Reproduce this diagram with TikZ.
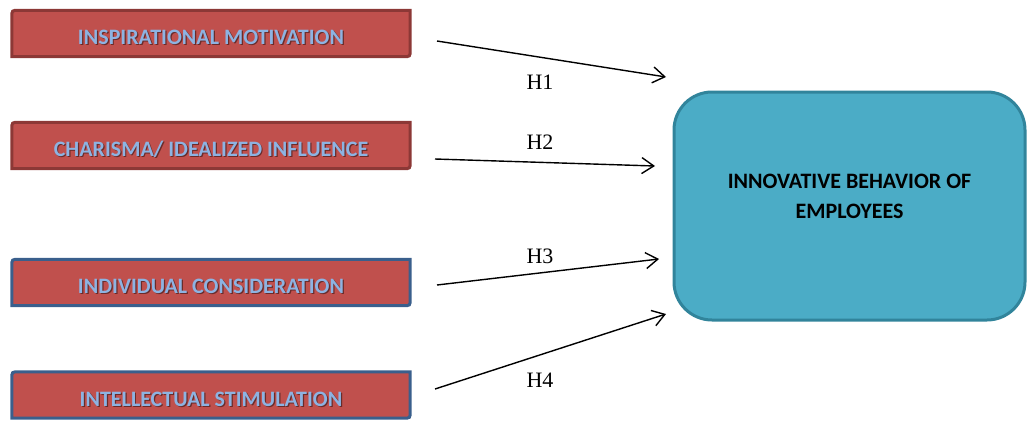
\documentclass[tikz,border=0pt]{standalone}
\usepackage{fontspec}
\setmainfont{Liberation Serif}
\newfontfamily\boxfont{Carlito}
\usetikzlibrary{arrows.meta,calc,backgrounds}

\definecolor{factorfill}{HTML}{C0504D}
\definecolor{redline}{HTML}{8C3836}
\definecolor{blueline}{HTML}{3A5F8C}
\definecolor{factortext}{HTML}{8DB3E2}
\definecolor{outcomefill}{HTML}{4BACC6}
\definecolor{outcomeline}{HTML}{31849B}

\tikzset{
  factor/.style={minimum width=398pt, minimum height=46pt, inner sep=0pt,
    text height=22pt, text depth=0pt, text=factortext,
    font=\boxfont\bfseries\fontsize{22}{24}\selectfont},
  factorshade/.style={factor, text=black, opacity=0.45},
  outcome/.style={draw=outcomeline, fill=outcomefill, line width=3pt,
    rounded corners=38pt, minimum width=351pt, minimum height=228pt,
    inner sep=0pt, font=\boxfont\bfseries\fontsize{22}{30}\selectfont},
  arr/.style={-{Straight Barb[length=12pt,width=16pt]}, line width=1.4pt},
  hyp/.style={font=\fontsize{22}{24}\selectfont, inner sep=0pt}
}

% frame of a factor box: rounded top-left and bottom-right corners
\newcommand\factorframe[2]{%
  \draw[#2, line width=3pt, fill=factorfill]
    (#1.south west) -- ($(#1.north west)+(0,7)$)
    .. controls (#1.north west) .. ($(#1.north west)+(7,0)$)
    -- (#1.north east) -- ($(#1.south east)+(0,-7)$)
    .. controls (#1.south east) .. ($(#1.south east)+(-7,0)$) -- cycle;}

\begin{document}
\begin{tikzpicture}[x=1pt,y=-1pt]
\useasboundingbox (0,0) rectangle (1027,421);

% text shadows of the factor labels
\node[factorshade] (f1s) at (212.2,34.8) {INSPIRATIONAL MOTIVATION};
\node[factorshade] (f2s) at (212.2,146.8) {CHARISMA/ IDEALIZED INFLUENCE};
\node[factorshade] (f3s) at (212.2,283.8) {INDIVIDUAL CONSIDERATION};
\node[factorshade] (f4s) at (212.2,396.3) {INTELLECTUAL STIMULATION};

% factors
\node[factor] (f1) at (211,33.5) {INSPIRATIONAL MOTIVATION};
\node[factor] (f2) at (211,145.5) {CHARISMA/ IDEALIZED INFLUENCE};
\node[factor] (f3) at (211,282.5) {INDIVIDUAL CONSIDERATION};
\node[factor] (f4) at (211,395) {INTELLECTUAL STIMULATION};

\begin{scope}[on background layer]
  \factorframe{f1}{redline}
  \factorframe{f2}{redline}
  \factorframe{f3}{blueline}
  \factorframe{f4}{blueline}
\end{scope}

% outcome
\node[outcome] (out) at (849.5,206)
  {\begin{tabular}{@{}c@{}}INNOVATIVE BEHAVIOR OF\\EMPLOYEES\end{tabular}\rule[-41pt]{0pt}{41pt}};

% hypothesised paths
\coordinate (s1) at (437,41);  \coordinate (t1) at (666,77);
\coordinate (s2) at (435,159); \coordinate (t2) at (655,166);
\coordinate (s3) at (437,285); \coordinate (t3) at (659,259);
\coordinate (s4) at (435,389); \coordinate (t4) at (666,314);

\draw[arr] (s1) -- (t1);
\draw[arr] (s2) -- (t2);
\draw[arr] (s3) -- (t3);
\draw[arr] (s4) -- (t4);

\node[hyp] (h1) at (540,82) {H1};
\node[hyp] (h2) at (540,142) {H2};
\node[hyp] (h3) at (540,256) {H3};
\node[hyp] (h4) at (540,380) {H4};
\end{tikzpicture}
\end{document}
